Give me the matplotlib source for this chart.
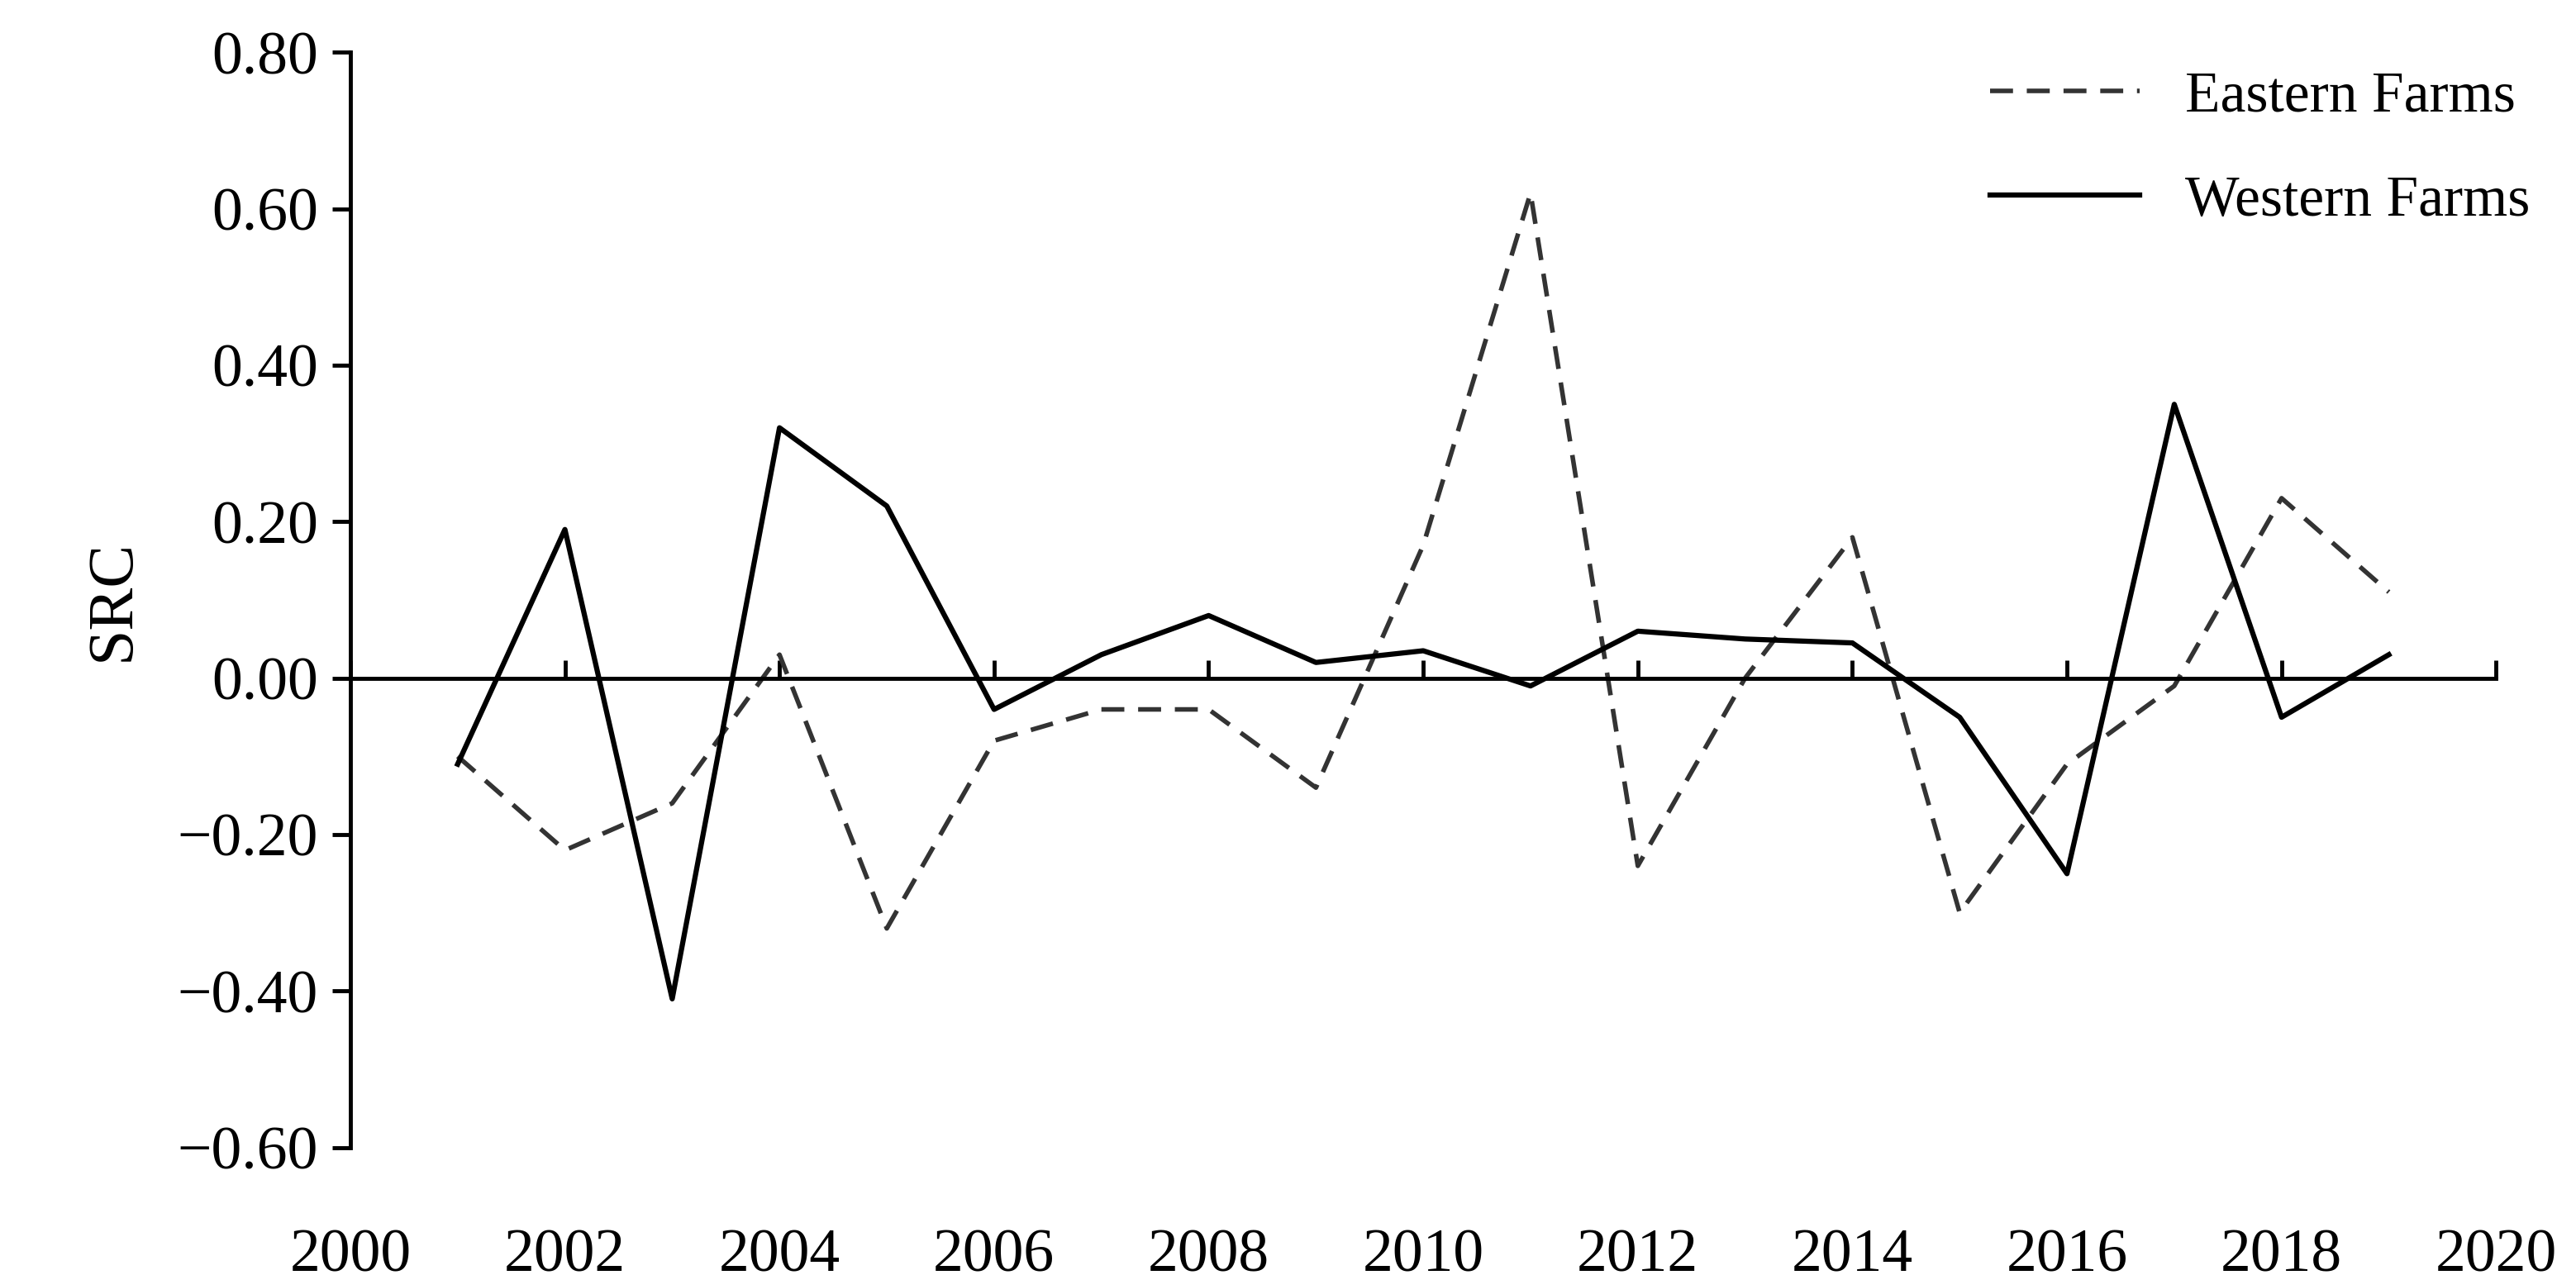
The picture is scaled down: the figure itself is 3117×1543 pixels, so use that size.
import matplotlib
matplotlib.use("Agg")
import matplotlib.pyplot as plt

years = list(range(2001, 2020))
eastern = [-0.10, -0.22, -0.16, 0.03, -0.32, -0.08, -0.04, -0.04, -0.14, 0.17,
           0.62, -0.24, 0.00, 0.18, -0.30, -0.11, -0.01, 0.23, 0.11]
western = [-0.11, 0.19, -0.41, 0.32, 0.22, -0.04, 0.03, 0.08, 0.02, 0.035,
           -0.01, 0.06, 0.05, 0.045, -0.05, -0.25, 0.35, -0.05, 0.03]
xticks = list(range(2000, 2021, 2))
yticks = [-0.6, -0.4, -0.2, 0.0, 0.2, 0.4, 0.6, 0.8]

plt.rcParams["font.family"] = ["Liberation Serif", "DejaVu Serif"]

fig = plt.figure(figsize=(31.17, 15.43), dpi=100)
ax = fig.add_axes([0.136, 0.10, 0.833, 0.859])

ax.plot(years, eastern, color="#333333", linestyle=(0, (5, 3)), linewidth=4, label="Eastern Farms")
ax.plot(years, western, color="black", linestyle="-", linewidth=4.5, label="Western Farms")

ax.set_xlim(2000, 2020)
ax.set_ylim(-0.6, 0.8)
ax.set_yticks(yticks)
ax.set_yticklabels(["%.2f" % v if v >= 0 else "\u2212%.2f" % -v for v in yticks])
ax.set_xticks(xticks)
ax.set_xticklabels([])

for s in ["top", "right"]:
    ax.spines[s].set_visible(False)
ax.spines["bottom"].set_position(("data", 0))
ax.spines["bottom"].set_linewidth(3.5)
ax.spines["left"].set_linewidth(3.5)
ax.tick_params(axis="x", direction="in", length=16, width=3.5)
ax.tick_params(axis="y", direction="out", length=16, width=3.5, labelsize=53, pad=12)

for x in xticks:
    ax.text(x, -0.74, str(x), ha="center", va="center", fontsize=53)

ax.set_ylabel("SRC", fontsize=56, labelpad=30)
ax.legend(loc="upper right", frameon=False, fontsize=50, handlelength=2.6,
          labelspacing=0.9, bbox_to_anchor=(1.04, 1.03))

fig.savefig("out.png", dpi=100)
